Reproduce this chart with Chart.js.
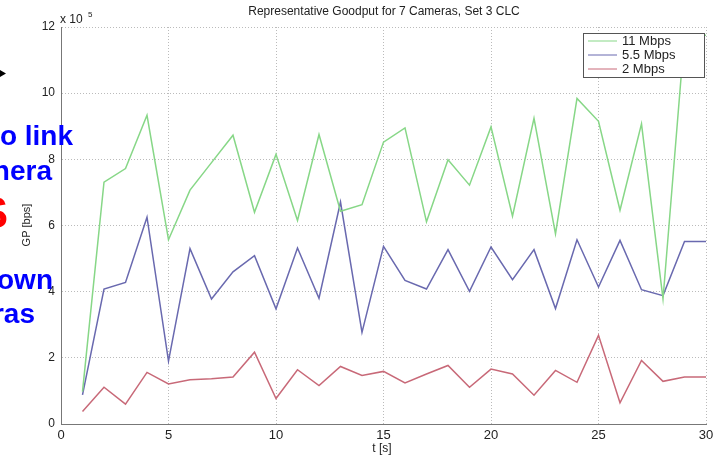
<!DOCTYPE html>
<html>
<head>
<meta charset="utf-8">
<script src="https://cdn.jsdelivr.net/npm/chart.js@4"></script>
<style>
  html, body { margin: 0; padding: 0; background: #fff; }
  #wrap { width: 719px; height: 456px; position: relative; }
</style>
</head>
<body>
<div id="wrap"><canvas id="myChart"></canvas></div>
<script>
// time axis (s)
const seconds = [1, 2, 3, 4, 5, 6, 7, 8, 9, 10, 11, 12, 13, 14, 15,
                 16, 17, 18, 19, 20, 21, 22, 23, 24, 25, 26, 27, 28, 29, 30];

// goodput, in units of 10^5 bps
const gp11 = [0.98, 7.31, 7.72, 9.33, 5.57, 7.07, 7.9, 8.73, 6.4, 8.15, 6.15, 8.75, 6.43, 6.63, 8.52,
              8.95, 6.11, 7.99, 7.22, 8.98, 6.28, 9.24, 5.75, 9.84, 9.15, 6.46, 9.07, 3.78, 11.75, 11.75];
const gp55 = [0.88, 4.08, 4.28, 6.25, 1.9, 5.3, 3.78, 4.6, 5.09, 3.48, 5.32, 3.8, 6.71, 2.77, 5.37,
              4.34, 4.08, 5.27, 4.01, 5.35, 4.36, 5.27, 3.49, 5.57, 4.14, 5.55, 4.06, 3.88, 5.52, 5.52];
const gp2  = [0.38, 1.11, 0.6, 1.56, 1.21, 1.34, 1.37, 1.42, 2.17, 0.77, 1.64, 1.16, 1.74, 1.47, 1.59,
              1.24, 1.51, 1.77, 1.11, 1.66, 1.51, 0.87, 1.62, 1.26, 2.68, 0.64, 1.92, 1.29, 1.42, 1.42];

const seriesNames = ['11 Mbps', '5.5 Mbps', '2 Mbps'];
const titre = 'Representative Goodput for 7 Cameras, Set 3 CLC';

const FONT = '"Liberation Sans", Arial, sans-serif';

function pts(values) {
    return seconds.map((t, i) => ({ x: t, y: values[i] }));
}

// texts and legend drawn on top of the plot
const decor = {
    id: 'decor',
    afterDraw(chart) {
        const ctx = chart.ctx;
        const area = chart.chartArea;
        ctx.save();

        // title
        ctx.fillStyle = '#222';
        ctx.font = '12px ' + FONT;
        ctx.textAlign = 'center';
        ctx.textBaseline = 'middle';
        ctx.fillText(titre, 384, 12);

        // exponent
        ctx.textAlign = 'left';
        ctx.textBaseline = 'alphabetic';
        ctx.font = '12px ' + FONT;
        ctx.fillText('x 10', 60, 23);
        ctx.font = '8px ' + FONT;
        ctx.fillText('5', 88, 17);

        // axis titles
        ctx.font = '12px ' + FONT;
        ctx.textAlign = 'center';
        ctx.textBaseline = 'middle';
        ctx.fillText('t [s]', 382, 449);
        ctx.save();
        ctx.translate(27, 225);
        ctx.rotate(-Math.PI / 2);
        ctx.font = '11px ' + FONT;
        ctx.fillText('GP [bps]', 0, 0);
        ctx.restore();

        // legend
        const lx = 583, ly = 33, lw = 121, lh = 44;
        ctx.fillStyle = '#fff';
        ctx.fillRect(lx, ly, lw, lh);
        ctx.strokeStyle = '#555';
        ctx.lineWidth = 1;
        ctx.strokeRect(lx + 0.5, ly + 0.5, lw, lh);
        ctx.font = '13px ' + FONT;
        ctx.textAlign = 'left';
        chart.data.datasets.forEach((ds, i) => {
            const y = ly + 8 + i * 14;
            ctx.strokeStyle = ds.borderColor;
            ctx.beginPath();
            ctx.moveTo(588, y);
            ctx.lineTo(617, y);
            ctx.stroke();
            ctx.fillStyle = '#222';
            ctx.fillText(ds.label, 622, y);
        });

        // slide text overlapping the picture
        ctx.textBaseline = 'alphabetic';
        ctx.textAlign = 'right';
        ctx.font = 'bold 28px ' + FONT;
        ctx.fillStyle = '#0000ff';
        ctx.fillText('o link', 73, 145);
        ctx.fillText('nera', 52, 180);
        ctx.fillText('own', 53, 289);
        ctx.fillText('ras', 35, 323);
        ctx.fillStyle = '#ff0000';
        ctx.font = 'bold 44px ' + FONT;
        ctx.fillText('S', 8, 228);

        // arrow tip
        ctx.fillStyle = '#000';
        ctx.beginPath();
        ctx.moveTo(0, 70);
        ctx.lineTo(6, 73.5);
        ctx.lineTo(0, 77);
        ctx.closePath();
        ctx.fill();

        ctx.restore();
    }
};

const ctx = document.getElementById('myChart');
new Chart(ctx, {
    type: 'line',
    data: {
        datasets: [
            { label: seriesNames[0], data: pts(gp11), borderColor: 'rgb(135,215,135)' },
            { label: seriesNames[1], data: pts(gp55), borderColor: 'rgb(105,105,175)' },
            { label: seriesNames[2], data: pts(gp2),  borderColor: 'rgb(200,105,120)' }
        ].map(d => Object.assign(d, { borderWidth: 1.5, pointRadius: 0, tension: 0, fill: false }))
    },
    options: {
        responsive: true,
        maintainAspectRatio: false,
        animation: false,
        layout: { padding: { left: 21, right: 13, top: 27, bottom: 0 } },
        plugins: {
            legend: { display: false },
            title: { display: false },
            tooltip: { enabled: false }
        },
        scales: {
            x: {
                type: 'linear',
                min: 0,
                max: 30,
                ticks: { stepSize: 5, padding: 4, color: '#222', font: { family: FONT, size: 13 }, maxRotation: 0 },
                grid: { color: '#bbb', drawTicks: false },
                border: { color: '#777', width: 1, dash: [1, 2] },
                afterFit: s => { s.height = 32; }
            },
            y: {
                min: 0,
                max: 12,
                ticks: { stepSize: 2, padding: 6, color: '#222', font: { family: FONT, size: 12 } },
                grid: { color: '#bbb', drawTicks: false },
                border: { color: '#777', width: 1, dash: [1, 2] },
                afterFit: s => { s.width = 40; }
            }
        }
    },
    plugins: [decor]
});
</script>
</body>
</html>
